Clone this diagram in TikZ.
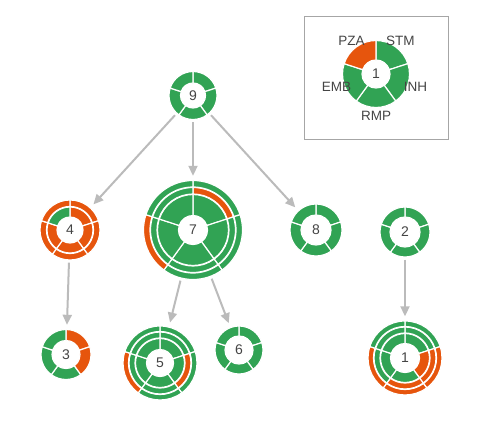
\documentclass[tikz,border=0pt]{standalone}
\usepackage{fontspec}
\setmainfont{Liberation Sans}
\usetikzlibrary{arrows.meta}
\definecolor{susc}{HTML}{31A354}
\definecolor{resi}{HTML}{E6550D}
\definecolor{edgegray}{HTML}{BBBBBB}
\definecolor{textgray}{HTML}{444444}
\tikzstyle{isolate}=[circle,inner sep=0pt,text=textgray,font=\fontsize{14}{14}\selectfont]
\tikzstyle{segment}=[draw=white,line width=1.2pt]
\tikzstyle{edge}=[draw,edgegray,line width=2pt,-{Triangle[length=10pt,width=9pt]},shorten >=5pt,shorten <=3pt]
\tikzstyle{drug}=[text=textgray,font=\fontsize{13.5}{14}\selectfont,inner sep=0pt]
\tikzstyle{legend box}=[draw=black!35,line width=1pt,inner sep=0pt]

% node, inner radius, outer radius, colours STM/INH/RMP/EMB/PZA
\newcommand{\drugring}[4]{%
  \foreach \segcol [count=\k from 0] in {#4}
    \path[segment,fill=\segcol] ([shift={(90-72*\k:#3pt)}]#1.center)
      arc[start angle=90-72*\k, delta angle=-72, radius=#3pt]
      -- ([shift={(18-72*\k:#2pt)}]#1.center)
      arc[start angle=18-72*\k, delta angle=72, radius=#2pt] -- cycle;
}

\begin{document}
\begin{tikzpicture}[x=1pt,y=1pt]
    \useasboundingbox (0,0) rectangle (486,444);
    \foreach \pos/\name/\d in {{(193,348.5)/9/47pt}, {(70,214)/4/59pt}, {(193,214)/7/98pt},
                               {(316,214)/8/51pt}, {(405,212)/2/49pt}, {(66,89.5)/3/49pt},
                               {(160,81)/5/73pt}, {(239,94)/6/47pt}, {(405,86)/1/73pt}}
        \node[isolate,minimum size=\d] (n\name) at \pos {\name};

    % legend
    \node[legend box,minimum width=144pt,minimum height=123pt] (legend) at (376,365.5) {};
    \node[isolate,minimum size=66pt] (key) at (376,370) {1};
    \drugring{key}{14}{33.5}{susc,susc,susc,susc,resi}
    \foreach \lbl [count=\k from 0] in {STM,INH,RMP,EMB,PZA}
        \node[drug] (lab\lbl) at ([shift={(54-72*\k:41.5pt)}]key.center) {\lbl};

    % rings, inside out
    \drugring{n9}{12.5}{24}{susc,susc,susc,susc,susc}
    \drugring{n8}{15}{26}{susc,susc,susc,susc,susc}
    \drugring{n2}{15}{25}{susc,susc,susc,susc,susc}
    \drugring{n6}{14}{24}{susc,susc,susc,susc,susc}
    \drugring{n3}{14}{25}{resi,resi,susc,susc,susc}
    \drugring{n4}{13}{23}{resi,resi,resi,resi,susc}
    \drugring{n4}{23.5}{30}{resi,resi,resi,resi,resi}
    \drugring{n7}{14.5}{35.5}{susc,susc,susc,susc,susc}
    \drugring{n7}{36}{42.5}{resi,susc,susc,susc,susc}
    \drugring{n7}{43}{49.5}{susc,susc,susc,resi,susc}
    \drugring{n5}{13.5}{24.5}{susc,susc,susc,susc,susc}
    \drugring{n5}{25}{31}{susc,resi,susc,susc,susc}
    \drugring{n5}{31.5}{37}{susc,susc,susc,resi,susc}
    \drugring{n1}{14.5}{24.5}{susc,resi,susc,susc,susc}
    \drugring{n1}{25}{31}{susc,resi,resi,susc,susc}
    \drugring{n1}{31.5}{37}{susc,resi,resi,resi,susc}

    \foreach \source/\dest in {n9/n4, n9/n7, n9/n8, n4/n3, n7/n5, n7/n6, n2/n1}
        \path[edge] (\source) -- (\dest);
\end{tikzpicture}
\end{document}
